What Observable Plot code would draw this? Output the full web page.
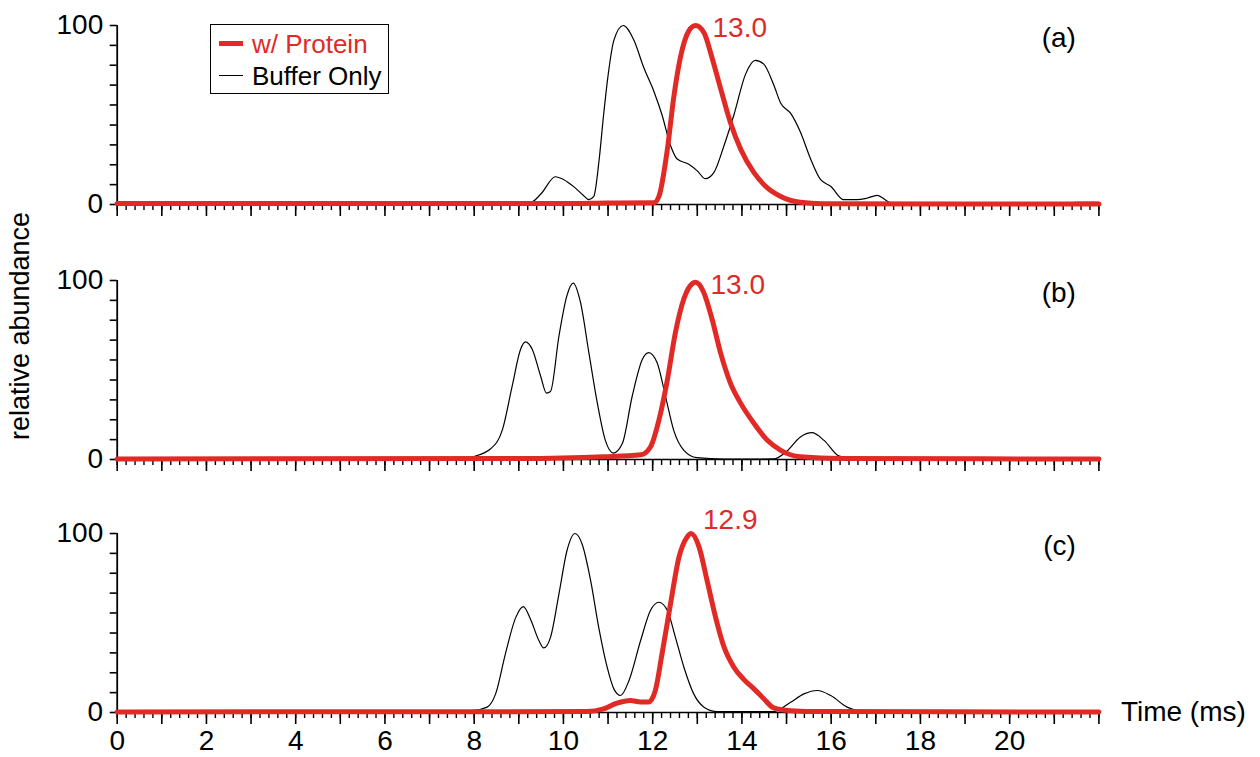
<!DOCTYPE html>
<html>
<head>
<meta charset="utf-8">
<script src="https://cdn.jsdelivr.net/npm/d3@7"></script>
<script src="https://cdn.jsdelivr.net/npm/@observablehq/plot@0.6"></script>
<style>
  body { margin: 0; background: #fff; }
  #wrap { position: relative; width: 1260px; height: 757px; font-family: "Liberation Sans", Arial, sans-serif; color: #000; }
  .panel { position: absolute; left: 0; }
  #ylabel { position: absolute; left: 20px; top: 326px; transform: translate(-50%, -50%) rotate(-90deg); white-space: nowrap; font-size: 27px; line-height: 1; }
  #legend { position: absolute; left: 210px; top: 24px; width: 179px; height: 70px; box-sizing: border-box; border: 1.5px solid #000; background: #fff; }
  .sw { position: absolute; left: 8px; width: 24px; }
  .lt { position: absolute; left: 41px; font-size: 26px; line-height: 1; white-space: nowrap; }
</style>
</head>
<body>
<div id="wrap"></div>
<script>
// ---------- data ----------
const panelNames = ["(a)", "(b)", "(c)"];
const peakLabels = ["13.0", "13.0", "12.9"];
const seriesNames = ["w/ Protein", "Buffer Only"];
const yLabel = "relative abundance";
const xLabel = "Time (ms)";
const yTickLabels = [0, 100];
const yMinorTicks = [11.1, 22.2, 33.3, 44.4, 55.6, 66.7, 77.8, 88.9];
const xTickLabels = [0, 2, 4, 6, 8, 10, 12, 14, 16, 18, 20];
const xMajorTicks = [0, 1, 2, 3, 4, 5, 6, 7, 8, 9, 10, 11, 12, 13, 14, 15, 16, 17, 18, 19, 20, 21, 22];

// [time (ms), relative abundance]
const bufferA = [[0,0.5],[4,0.5],[7.2,0.6],[7.6,1.2],[8.0,0.8],[8.5,0.5],[9.0,0.6],[9.26,1],[9.5,6],[9.82,15.5],[10.0,14],[10.23,10],[10.45,5],[10.57,2.7],[10.68,4.5],[10.8,25],[10.9,50],[11.0,72],[11.13,91.7],[11.34,100],[11.58,91.7],[11.8,76.5],[12.03,63],[12.21,50],[12.4,33],[12.55,25.4],[12.81,22.5],[13.0,18.8],[13.18,14.4],[13.37,17.8],[13.6,33],[13.82,50],[14.08,72.7],[14.3,80.5],[14.49,78.4],[14.71,67],[14.87,56.6],[15.09,51],[15.31,40.5],[15.54,25.4],[15.76,14],[15.99,10.2],[16.28,2.7],[16.58,2.7],[16.8,3.5],[17.03,5.1],[17.33,1],[17.7,0.3],[19,0.3],[21,0.5],[21.5,1.2],[22,1.2]];
const proteinA = [[0,0.5],[10,0.5],[11,0.8],[12.03,1],[12.14,4.5],[12.33,31],[12.47,59.5],[12.62,82],[12.81,97],[12.96,100],[13.15,96],[13.33,82],[13.52,65],[13.74,46],[13.97,31],[14.27,17.8],[14.57,9.3],[14.87,4.5],[15.31,1.2],[15.8,0.4],[22,0.3]];

const bufferB = [[0,0.3],[7.0,0.3],[7.7,0.5],[7.99,1.7],[8.37,6],[8.63,16.4],[8.85,40.8],[9.04,61.6],[9.15,65.7],[9.3,61.6],[9.49,46.5],[9.62,37.1],[9.71,38],[9.9,69],[10.08,91.7],[10.22,98.5],[10.38,88],[10.57,59.7],[10.76,31.5],[10.94,10.7],[11.12,3.6],[11.32,8.9],[11.54,35.2],[11.77,56],[11.91,59.7],[12.1,54],[12.29,35],[12.47,16.4],[12.7,5.1],[12.99,1],[13.6,0.2],[14.71,0.3],[15.0,4.5],[15.31,12.6],[15.57,15],[15.84,10.7],[16.17,2],[16.5,0.3],[22,0.3]];
const proteinB = [[0,0.3],[9,0.5],[10.9,1.5],[11.73,2.6],[11.95,7],[12.14,22],[12.33,44.6],[12.51,71],[12.7,89.8],[12.89,98.3],[12.96,99],[13.14,93.6],[13.33,78.5],[13.52,59.7],[13.74,42.8],[13.97,31.5],[14.27,20.2],[14.57,10.7],[14.87,5.1],[15.31,1.5],[16.2,0.5],[22,0.3]];

const bufferC = [[0,0.3],[7.0,0.3],[7.5,0.8],[7.99,1.2],[8.29,3],[8.48,10.4],[8.7,32.8],[8.93,53],[9.1,59.2],[9.26,52.3],[9.45,40.2],[9.56,36.1],[9.71,42],[9.9,66.3],[10.08,90.5],[10.26,100],[10.42,94],[10.61,73.7],[10.79,47.7],[10.98,25.3],[11.13,13.2],[11.28,9.5],[11.47,17.9],[11.73,40.2],[11.95,57],[12.14,61.6],[12.33,57],[12.51,42],[12.7,25.3],[12.92,10.4],[13.15,3],[13.45,0.5],[14.71,0.5],[15.09,5.7],[15.39,10.4],[15.69,12.3],[15.99,9.5],[16.36,3],[16.8,0.5],[22,0.3]];
const proteinC = [[0,0.3],[10.53,0.5],[10.9,2],[11.2,5.2],[11.5,6.7],[11.73,5.9],[11.91,5.9],[12.06,12.3],[12.21,32.8],[12.4,60.7],[12.59,86.8],[12.77,98],[12.86,100],[13.04,92.4],[13.22,73.7],[13.41,53.2],[13.6,36.5],[13.82,25.3],[14.04,18.5],[14.27,13.2],[14.49,7.7],[14.71,2.6],[15.09,1],[15.8,0.5],[22,0.3]];

const buffers = [bufferA, bufferB, bufferC];
const proteins = [proteinA, proteinB, proteinC];

// ---------- drawing ----------
const RED = "#e12a26";
const FONT = "'Liberation Sans', Arial, sans-serif";
const xMinorTicks = d3.range(0, 111).map(i => i / 5);
const wrap = document.getElementById("wrap");

const tops = [0, 255, 508];
const heights = [255, 255, 249];
const peakDx = [17, 15, 12];
const peakDy = [3, 3, -13];

for (let i = 0; i < 3; i++) {
  const last = i === 2;
  const H = heights[i];
  const marks = [
    Plot.axisY({ticks: yMinorTicks, tickSize: 7, strokeWidth: 1.6, tickFormat: () => "", label: null}),
    Plot.axisY({ticks: yTickLabels, tickSize: 7, tickPadding: 7, strokeWidth: 1.6, fontSize: 28, label: null, tickFormat: d3.format("d")}),
    Plot.axisX({ticks: xMinorTicks, tickSize: 6, strokeWidth: 1.4, tickFormat: () => "", label: null}),
    Plot.axisX({ticks: xMajorTicks, tickSize: 12, strokeWidth: 1.6, tickFormat: () => "", label: null}),
    Plot.ruleX([0], {y1: 0, y2: 100, stroke: "#000", strokeWidth: 1.8}),
    Plot.ruleY([0], {x1: 0, x2: 22, stroke: "#000", strokeWidth: 1.6}),
    Plot.line(buffers[i], {x: d => d[0], y: d => d[1], stroke: "#000", strokeWidth: 1.2, curve: "monotone-x"}),
    Plot.line(proteins[i], {x: d => d[0], y: d => d[1], stroke: RED, strokeWidth: 5, curve: "monotone-x"}),
    Plot.text(proteins[i], Plot.selectMaxY({x: d => d[0], y: d => d[1], text: () => peakLabels[i], fill: RED, fontSize: 28, textAnchor: "start", lineAnchor: "middle", dx: peakDx[i], dy: peakDy[i]})),
    Plot.text([panelNames[i]], {frameAnchor: "top-right", textAnchor: "end", lineAnchor: "middle", dx: -23, dy: 13, fontSize: 28})
  ];
  if (last) {
    marks.push(
      Plot.axisX({ticks: xTickLabels, tickSize: 0, tickPadding: 18, fontSize: 28, label: null, tickFormat: d3.format("d")}),
      Plot.text([xLabel], {frameAnchor: "bottom-right", textAnchor: "start", lineAnchor: "middle", dx: 22, fontSize: 28})
    );
  }
  const chart = Plot.plot({
    width: 1260,
    height: H,
    marginLeft: 116.7,
    marginRight: 161.6,
    marginTop: 25,
    marginBottom: H - 204,
    x: {domain: [0, 22]},
    y: {domain: [0, 100]},
    style: {fontFamily: FONT, fontSize: "28px", background: "transparent", color: "#000", overflow: "visible"},
    marks
  });
  chart.classList.add("panel");
  chart.style.top = tops[i] + "px";
  wrap.appendChild(chart);
}

// y label
const yl = document.createElement("div");
yl.id = "ylabel";
yl.textContent = yLabel;
wrap.appendChild(yl);

// legend
const lg = document.createElement("div");
lg.id = "legend";
lg.innerHTML =
  `<div class="sw" style="top:16px;height:5px;background:${RED};"></div>` +
  `<div class="lt" style="top:6px;color:${RED};">${seriesNames[0]}</div>` +
  `<div class="sw" style="top:50px;height:1.2px;background:#000;"></div>` +
  `<div class="lt" style="top:38px;color:#000;">${seriesNames[1]}</div>`;
wrap.appendChild(lg);
</script>
</body>
</html>
